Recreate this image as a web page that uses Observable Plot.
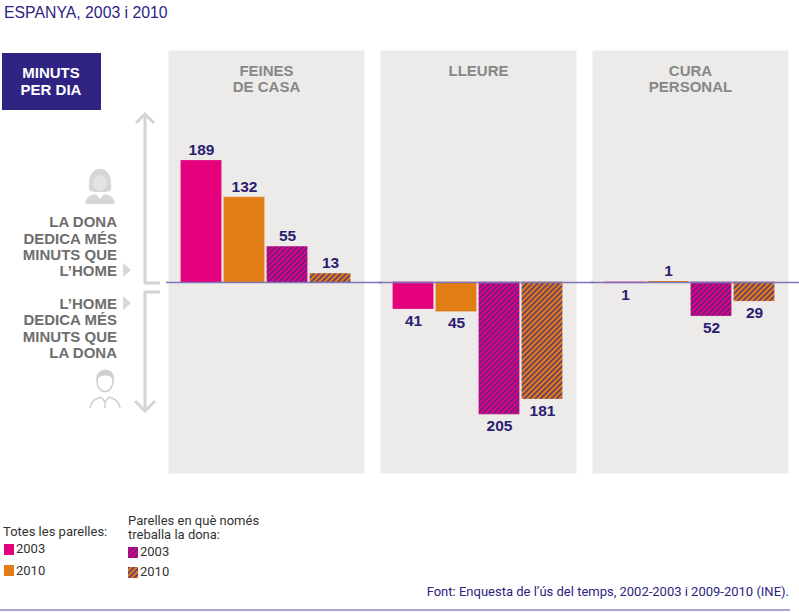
<!DOCTYPE html>
<html>
<head>
<meta charset="utf-8">
<script src="https://cdn.jsdelivr.net/npm/d3@7"></script>
<script src="https://cdn.jsdelivr.net/npm/@observablehq/plot@0.6"></script>
<style>
  body { margin: 0; background: #fff; }
  #page { position: relative; width: 799px; height: 613px; overflow: hidden; font-family: "Liberation Sans", Arial, sans-serif; }
  .abs { position: absolute; white-space: nowrap; }
  #title { left: 4px; top: 4px; font-size: 15.8px; color: #2d2482; }
  .leg { font-family: Roboto, "Liberation Sans", sans-serif; font-size: 13px; line-height: 14px; color: #333; }
  .sw { position: absolute; width: 10px; height: 11px; }
  #source { right: 10px; top: 585px; font-family: Roboto, "Liberation Sans", sans-serif; font-size: 13px; line-height: 14px; color: #2d2482; }
  #rule { left: 0; top: 609px; width: 790px; height: 1.5px; background: #aaa5d0; }
  #chart { position: absolute; left: 0; top: 32px; }
</style>
</head>
<body>
<div id="page">
  <svg width="0" height="0" style="position:absolute">
    <defs>
      <pattern id="hatch2003" patternUnits="userSpaceOnUse" width="3.8" height="3.8" patternTransform="rotate(45)">
        <rect width="3.8" height="3.8" fill="#e5007d"></rect>
        <rect width="1.3" height="3.8" fill="#3d2a8c"></rect>
      </pattern>
      <pattern id="hatch2010" patternUnits="userSpaceOnUse" width="3.8" height="3.8" patternTransform="rotate(45)">
        <rect width="3.8" height="3.8" fill="#e27c14"></rect>
        <rect width="1.3" height="3.8" fill="#3d2a8c"></rect>
      </pattern>
    </defs>
  </svg>
  <div id="title" class="abs">ESPANYA, 2003 i 2010</div>
  <div id="chart"></div>

  <div class="abs leg" style="left:3px;top:525px">Totes les parelles:</div>
  <div class="sw" style="left:4px;top:544px;background:#e5007d"></div>
  <div class="abs leg" style="left:16px;top:542px">2003</div>
  <div class="sw" style="left:4px;top:565px;background:#e27c14"></div>
  <div class="abs leg" style="left:16px;top:564px">2010</div>

  <div class="abs leg" style="left:128px;top:514px">Parelles en què només</div>
  <div class="abs leg" style="left:128px;top:528px">treballa la dona:</div>
  <svg class="sw" style="left:128px;top:547px" width="10" height="11"><rect width="10" height="11" fill="url(#hatch2003)"></rect></svg>
  <div class="abs leg" style="left:140px;top:545px">2003</div>
  <svg class="sw" style="left:128px;top:567px" width="10" height="11"><rect width="10" height="11" fill="url(#hatch2010)"></rect></svg>
  <div class="abs leg" style="left:140px;top:565px">2010</div>

  <div id="source" class="abs">Font: Enquesta de l’ús del temps, 2002-2003 i 2009-2010 (INE).</div>
  <div id="rule" class="abs"></div>
</div>
<script>
const categories = ["FEINES\nDE CASA", "LLEURE", "CURA\nPERSONAL"];
const series = ["Totes 2003", "Totes 2010", "Només dona 2003", "Només dona 2010"];
const feinesDeCasa = [189, 132, 55, 13];
const lleure = [-41, -45, -205, -181];
const curaPersonal = [-1, 1, -52, -29];
const seriesFills = ["#e5007d", "#e27c14", "url(#hatch2003)", "url(#hatch2010)"];

const rows = [feinesDeCasa, lleure, curaPersonal].flatMap((vals, i) =>
  vals.map((v, j) => ({cat: categories[i], series: series[j], value: v}))
);

const labelStyle = {fontSize: 15.5, fontWeight: "bold", fill: "#2b2070", fontFamily: "Liberation Sans, Arial, sans-serif"};

const chart = Plot.plot({
  width: 799,
  height: 463,
  marginTop: 18,
  marginBottom: 22,
  marginLeft: 167,
  marginRight: 9,
  style: {background: "transparent", overflow: "visible", fontFamily: "Liberation Sans, Arial, sans-serif"},
  fx: {domain: categories, paddingInner: 0.075, paddingOuter: 0, axis: null},
  x: {domain: series, paddingInner: 0.065, paddingOuter: 0.3, axis: null},
  y: {domain: [-297, 361], axis: null},
  color: {domain: series, range: seriesFills},
  marks: [
    Plot.frame({fill: "#ecebea", stroke: "none"}),
    Plot.text(categories, {fx: d => d, text: d => d, frameAnchor: "top", dy: 14, fontSize: 15, fontWeight: "bold", fill: "#878787", lineHeight: 1.08}),
    Plot.barY(rows, {fx: "cat", x: "series", y: "value", fill: "series", stroke: "series", strokeWidth: 0.8}),
    Plot.ruleY([0], {stroke: "#7d74b8", strokeWidth: 1.5, insetLeft: -2, insetRight: -18}),
    Plot.text(rows.filter(d => d.value > 0), {fx: "cat", x: "series", y: "value", text: d => Math.abs(d.value), dy: -11, ...labelStyle}),
    Plot.text(rows.filter(d => d.value < 0), {fx: "cat", x: "series", y: "value", text: d => Math.abs(d.value), dy: 12, ...labelStyle})
  ]
});
document.getElementById("chart").appendChild(chart);

// Left-side annotation (decoration)
const ov = d3.select("#page").append("svg")
  .attr("width", 799).attr("height", 613)
  .style("position", "absolute").style("left", 0).style("top", 0);
const g = "#d4d4d4";
ov.append("rect").attr("x", 2).attr("y", 53).attr("width", 99).attr("height", 57).attr("fill", "#2f2482");
ov.append("text").attr("x", 51).attr("y", 72).attr("text-anchor", "middle").attr("dominant-baseline", "central")
  .attr("fill", "#fff").attr("font-weight", "bold").attr("font-size", 15).attr("font-family", "Liberation Sans, Arial, sans-serif").text("MINUTS");
ov.append("text").attr("x", 51).attr("y", 89).attr("text-anchor", "middle").attr("dominant-baseline", "central")
  .attr("fill", "#fff").attr("font-weight", "bold").attr("font-size", 15).attr("font-family", "Liberation Sans, Arial, sans-serif").text("PER DIA");

// arrows / brackets
ov.append("path").attr("d", "M145,114 V283 H160").attr("fill", "none").attr("stroke", g).attr("stroke-width", 3);
ov.append("path").attr("d", "M136,123 L145,114 L154,123").attr("fill", "none").attr("stroke", g).attr("stroke-width", 3);
ov.append("path").attr("d", "M160,292 H145 V411").attr("fill", "none").attr("stroke", g).attr("stroke-width", 3);
ov.append("path").attr("d", "M135,401 L145,411 L155,401").attr("fill", "none").attr("stroke", g).attr("stroke-width", 3);

const upper = ["LA DONA", "DEDICA MÉS", "MINUTS QUE", "L’HOME"];
const lower = ["L’HOME", "DEDICA MÉS", "MINUTS QUE", "LA DONA"];
const upY = [221, 238, 254, 270];
const loY = [303, 319, 336, 352];
[[upper, upY], [lower, loY]].forEach(([lines, ys]) => {
  lines.forEach((t, i) => {
    ov.append("text").attr("x", 117).attr("y", ys[i]).attr("text-anchor", "end").attr("dominant-baseline", "central")
      .attr("fill", "#6e6e6e").attr("font-weight", "bold").attr("font-size", 15)
      .attr("font-family", "Liberation Sans, Arial, sans-serif").text(t);
  });
});
ov.append("path").attr("d", "M123,263 L131,270 L123,277 Z").attr("fill", "#d8d8d8");
ov.append("path").attr("d", "M123,296 L131,303 L123,310 Z").attr("fill", "#d8d8d8");

// woman icon
const wi = ov.append("g").attr("fill", "#d6d6d6");
wi.append("path").attr("d", "M89,190 C88,176 92,169 100,169 C108,169 112,176 111,190 C108,192 104,192 104,192 L96,192 C96,192 92,192 89,190 Z");
wi.append("ellipse").attr("cx", 100).attr("cy", 183).attr("rx", 6.5).attr("ry", 8).attr("fill", "#e4e4e4");
wi.append("path").attr("d", "M85,204 C86,197 90,195 96,194 L100,199 L104,194 C110,195 114,197 115,204 Z");

// man icon
const mi = ov.append("g").attr("fill", "none").attr("stroke", "#d0d0d0").attr("stroke-width", 1.6);
mi.append("ellipse").attr("cx", 105).attr("cy", 381).attr("rx", 8).attr("ry", 10.5);
mi.append("path").attr("d", "M97,378 C97,369 113,367 113,378 C110,374 102,373 97,378 Z").attr("fill", "#d0d0d0");
mi.append("path").attr("d", "M90,408 C91,401 95,399 101,397 M109,397 C115,399 119,401 120,408");
mi.append("path").attr("d", "M101,397 L105,402 L109,397 M105,402 L105,408");
</script>
</body>
</html>
